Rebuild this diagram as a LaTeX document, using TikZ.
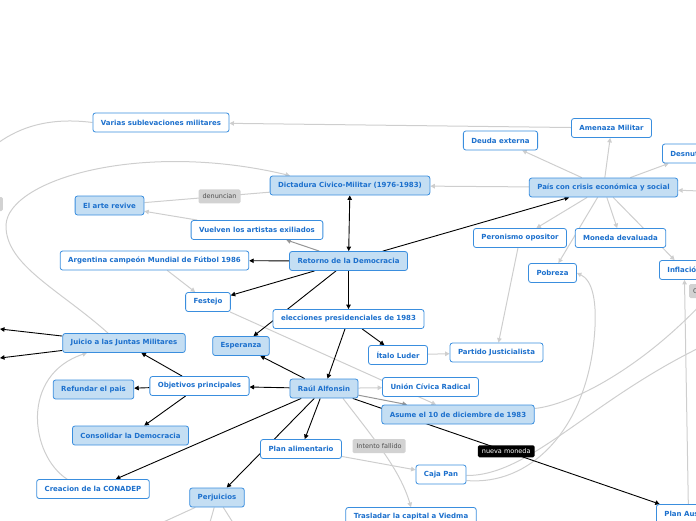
\documentclass[tikz,border=0pt]{standalone}
\usepackage{fontspec}
\setmainfont{DejaVu Sans}
\usepackage{tikz}
\usetikzlibrary{arrows.meta,backgrounds}

\definecolor{mmblue}{RGB}{58,142,222}
\definecolor{mmtext}{RGB}{28,112,205}
\definecolor{mmfill}{RGB}{196,222,243}
\definecolor{mmline}{RGB}{206,206,206}
\definecolor{mmdark}{RGB}{150,150,150}
\definecolor{mmtag}{RGB}{210,210,210}
\definecolor{mmtagtext}{RGB}{80,80,80}

\tikzset{
  >={Triangle[length=4.5pt,width=4.5pt]},
  topic/.style={draw=mmblue, line width=0.8pt, fill=white, rounded corners=2.5pt, text=mmtext,
    font=\fontsize{7}{8}\selectfont\bfseries, inner xsep=8pt, inner ysep=0pt, minimum height=19pt},
  maintopic/.style={topic, fill=mmfill},
  graytag/.style={fill=mmtag, text=mmtagtext, rounded corners=1.5pt, font=\fontsize{6.5}{7}\selectfont,
    inner xsep=4pt, inner ysep=0pt, minimum height=14pt},
  blacktag/.style={graytag, fill=black, text=white, minimum height=12pt},
  blackarrow/.style={black, line width=0.9pt, ->},
  grayarrow/.style={mmline, line width=1pt, ->},
  darkarrow/.style={mmdark, line width=1pt, ->},
  grayline/.style={mmline, line width=1pt},
}

\begin{document}
\begin{tikzpicture}[x=1pt, y=-1pt]
    \useasboundingbox (0,0) rectangle (696,520);
    \clip (0,0) rectangle (696,520);

    \node[topic] (varias) at (161,122.5) {Varias sublevaciones militares};
    \node[topic] (amenaza) at (611.5,128) {Amenaza Militar};
    \node[topic] (deuda) at (500.5,140.5) {Deuda externa};
    \node[topic, anchor=west] (desnut) at (662,153.5) {Desnutrición};
    \node[maintopic] (dict) at (350,185.5) {Dictadura Civico-Militar (1976-1983)};
    \node[maintopic] (pais) at (603.5,187.5) {País con crisis económica y social};
    \node[maintopic] (arte) at (109.5,205.5) {El arte revive};
    \node[topic] (vuelven) at (257,230) {Vuelven los artistas exiliados};
    \node[topic] (peron) at (520,238) {Peronismo opositor};
    \node[topic] (moneda) at (620.5,238) {Moneda devaluada};
    \node[topic] (argentina) at (154.5,260.5) {Argentina campeón Mundial de Fútbol 1986};
    \node[maintopic] (retorno) at (348.5,261) {Retorno de la Democracia};
    \node[topic] (pobreza) at (552.5,273) {Pobreza};
    \node[topic, anchor=west] (inflacion) at (659,270) {Inflación};
    \node[topic] (festejo) at (208,302) {Festejo};
    \node[topic] (elecciones) at (348.5,319) {elecciones presidenciales de 1983};
    \node[maintopic] (juicio) at (124,343) {Juicio a las Juntas Militares};
    \node[maintopic] (esperanza) at (241,346) {Esperanza};
    \node[topic] (luder) at (398,355) {Ítalo Luder};
    \node[topic] (pj) at (496.5,352.5) {Partido Justicialista};
    \node[topic] (objetivos) at (199.5,386) {Objetivos principales};
    \node[maintopic] (alfonsin) at (324,388.5) {Raúl Alfonsin};
    \node[topic] (ucr) at (430.5,387) {Unión Cívica Radical};
    \node[maintopic] (refundar) at (93.5,389.5) {Refundar el pais};
    \node[maintopic] (asume) at (458,414.5) {Asume el 10 de diciembre de 1983};
    \node[maintopic] (consolidar) at (130.5,435.5) {Consolidar la Democracia};
    \node[topic] (planalim) at (301,449) {Plan alimentario};
    \node[topic] (cajapan) at (441,474.5) {Caja Pan};
    \node[topic] (conadep) at (93,489) {Creacion de la CONADEP};
    \node[maintopic] (perjuicios) at (217,497.5) {Perjuicios};
    \node[topic] (viedma) at (411,517) {Trasladar la capital a Viedma};
    \node[topic, anchor=west] (austral) at (656,514) {Plan Austral};

    \node[graytag, anchor=east] (tagleft) at (3,204) {\phantom{xx}};
    \node[graytag, anchor=west] (tagright) at (689,291) {C};

    \coordinate (offA) at (0,329);
    \coordinate (offB) at (0,358);
    \coordinate (offC) at (700,191);
    \coordinate (offD) at (-2,143);
    \coordinate (offE) at (705,345);
    \coordinate (offF) at (124,540);
    \coordinate (offG) at (205,540);
    \coordinate (offH) at (244,540);
    \coordinate (offI) at (705,300);

    \begin{scope}[on background layer]
    \draw[grayarrow] (pais) -- (dict);
    \draw[grayarrow] (amenaza) -- (varias);
    \draw[grayarrow] (pais) -- (deuda);
    \draw[grayarrow] (pais) -- (amenaza);
    \draw[grayarrow] (pais) -- (desnut);
    \draw[grayarrow] (offC) -- (pais);
    \draw[grayarrow] (pais) -- (peron);
    \draw[grayarrow] (pais) -- (moneda);
    \draw[grayarrow] (pais) -- (pobreza);
    \draw[grayarrow] (pais) -- (inflacion);
    \draw[grayarrow] (peron) -- (pj);
    \draw[grayarrow] (luder) -- (pj);
    \draw[grayarrow] (alfonsin) -- (ucr);
    \draw[grayarrow] (festejo) -- (asume);
    \draw[grayarrow] (argentina) -- (festejo);
    \draw[grayarrow] (vuelven) -- (arte);
    \draw[grayline] (dict) -- (arte) node[graytag, pos=0.4] {denuncian};
    \draw[darkarrow] (alfonsin) -- (asume);
    \draw[darkarrow] (retorno) -- (vuelven);
    \draw[grayarrow] ([xshift=-16pt]juicio.north) .. controls (60,290) and (5,265) .. (6,225)
        .. controls (8,180) and (140,140) .. ([xshift=-60pt]dict.north);
    \draw[grayarrow] ([xshift=-26pt]conadep.north) .. controls (30,455) and (20,375) .. ([xshift=-37pt]juicio.south);
    \draw[grayline] (varias.west) .. controls (50,117) and (20,127) .. (offD);
    \draw[grayarrow] ([xshift=19pt]alfonsin.south) .. controls (375,440) and (400,470) .. (viedma.north)
        node[graytag, pos=0.42] {Intento fallido};
    \draw[grayarrow] (planalim) -- (cajapan);
    \draw[grayarrow] ([yshift=-6pt]cajapan.east) .. controls (530,486) and (585,430) .. (594,340)
        .. controls (598,300) and (592,280) .. (pobreza.east);
    \draw[grayline] ([yshift=-1pt]cajapan.east) .. controls (530,476) and (590,400) .. (offE);
    \draw[grayline] ([yshift=6pt]asume.east) .. controls (570,405) and (640,370) .. (offI);
    \draw[grayarrow] (austral) -- (inflacion);
    \draw[grayline] (perjuicios) -- (offF);
    \draw[grayline] (perjuicios) -- (offG);
    \draw[grayline] (perjuicios) -- (offH);

    \draw[blackarrow, <->] (retorno) -- (dict);
    \draw[blackarrow] (retorno) -- (pais);
    \draw[blackarrow] (retorno) -- (argentina);
    \draw[blackarrow] (retorno) -- (festejo);
    \draw[blackarrow] (retorno) -- (elecciones);
    \draw[blackarrow] (retorno) -- (esperanza);
    \draw[blackarrow] (elecciones) -- (luder);
    \draw[blackarrow] (elecciones) -- (alfonsin);
    \draw[blackarrow] (alfonsin) -- (esperanza);
    \draw[blackarrow] (alfonsin) -- (objetivos);
    \draw[blackarrow] (objetivos) -- (juicio);
    \draw[blackarrow] (objetivos) -- (refundar);
    \draw[blackarrow] (objetivos) -- (consolidar);
    \draw[blackarrow] (alfonsin) -- (conadep);
    \draw[blackarrow] (alfonsin) -- (planalim);
    \draw[blackarrow] (alfonsin) -- (perjuicios);
    \draw[blackarrow] (alfonsin) -- (austral) node[blacktag, midway] {nueva moneda};
    \draw[blackarrow] (juicio) -- (offA);
    \draw[blackarrow] (juicio) -- (offB);
    \end{scope}
\end{tikzpicture}
\end{document}
